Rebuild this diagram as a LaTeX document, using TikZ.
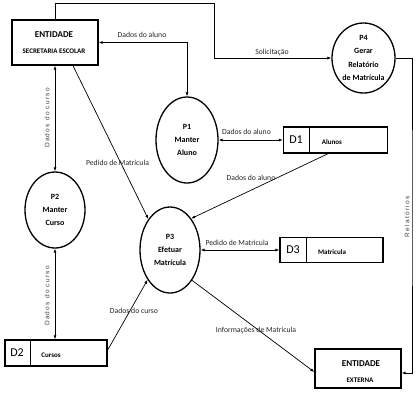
\documentclass[tikz,border=0pt]{standalone}
\usepackage{fontspec}
\setmainfont{Carlito}
\newfontfamily\rotfont{Liberation Sans}[LetterSpace=20]
\usetikzlibrary{shapes.geometric,arrows.meta,calc}
\begin{document}
\begin{tikzpicture}[x=1pt,y=-1pt,
 ent/.style={draw,line width=1.4pt,rectangle,inner sep=0pt},
 proc/.style={draw,line width=1.3pt,ellipse,inner sep=0pt,align=center,font=\fontsize{8}{12.8}\selectfont\bfseries},
 store/.style={draw,line width=1.4pt,rectangle,inner sep=0pt},
 sid/.style={font=\fontsize{12}{12}\selectfont,inner sep=0pt},
 sname/.style={font=\fontsize{7}{8}\selectfont\bfseries,inner sep=0pt},
 etitle/.style={font=\fontsize{9}{9}\selectfont\bfseries,inner sep=0pt},
 esub/.style={font=\fontsize{7}{8}\selectfont\bfseries,inner sep=0pt},
 tip/.tip={Latex[length=4pt,width=3pt]},
 flow/.style={line width=0.7pt,-tip},
 bflow/.style={line width=0.7pt,tip-tip},
 lbl/.style={font=\fontsize{7.7}{8}\selectfont,inner sep=1pt,text=black!85},
 rlbl/.style={font=\rotfont\fontsize{6.5}{7}\selectfont,rotate=90,inner sep=1pt,text=black!75}
]
\useasboundingbox (0,0) rectangle (419,400);

% entities
\node[ent,minimum width=86pt,minimum height=45pt] (sec) at (55,42.5) {};
\node[etitle] (secT1) at (54,35) {ENTIDADE};
\node[esub] (secT2) at (54,51) {SECRETARIA ESCOLAR};
\node[ent,minimum width=86pt,minimum height=39pt] (ext) at (358,368.5) {};
\node[etitle] (extT1) at (361,364) {ENTIDADE};
\node[esub] (extT2) at (360,380) {EXTERNA};

% processes
\node[proc,minimum width=62pt,minimum height=86pt] (P1) at (187,140) {P1\\Manter\\Aluno};
\node[proc,minimum width=60pt,minimum height=76pt] (P2) at (55,210) {P2\\Manter\\Curso};
\node[proc,minimum width=60pt,minimum height=86pt] (P3) at (170,250) {P3\\Efetuar\\Matrícula};
\node[proc,minimum width=63pt,minimum height=70pt,font=\fontsize{8}{13.3}\selectfont\bfseries] (P4) at (363.5,58) {P4\\Gerar\\Relatório\\de Matrícula};

% data stores
\node[store,minimum width=104pt,minimum height=26pt] (D1) at (335.5,140) {};
\draw[line width=0.6pt] ($(D1.north west)+(26,0)$) -- ($(D1.south west)+(26,0)$);
\node[sid] (D1id) at (296,140) {D1};
\node[sname] (D1n) at (332,142) {Alunos};

\node[store,minimum width=103pt,minimum height=25pt] (D3) at (331.5,250) {};
\draw[line width=0.6pt] ($(D3.north west)+(27,0)$) -- ($(D3.south west)+(27,0)$);
\node[sid] (D3id) at (293,250) {D3};
\node[sname] (D3n) at (332,252) {Matricula};

\node[store,minimum width=102pt,minimum height=26pt] (D2) at (56,353) {};
\draw[line width=0.6pt] ($(D2.north west)+(26,0)$) -- ($(D2.south west)+(26,0)$);
\node[sid] (D2id) at (17,353) {D2};
\node[sname] (D2n) at (51,355) {Cursos};

% connectors
\coordinate (c2) at (214,3);
\coordinate (c4) at (412,200);
\draw[flow] (sec.north) |- (c2) |- (P4.west);
\draw[flow] (P4.east) -| (c4) |- ($(ext.east)+(0,4.5)$);
\draw[bflow] (P1.north) |- (sec.east);
\draw[bflow] (sec.south) -- (P2.north);
\draw[bflow] (P2.south) -- (P2.south |- D2.north);
\draw[bflow] (P1) -- (D1);
\draw[flow] ($(D1.south)+(-7.5,0)$) -- (P3.56);
\draw[flow] ($(sec.south)+(18,0)$) -- (P3.125);
\draw[bflow] (P3) -- (D3);
\draw[flow] ($(D2.east)+(0,-3)$) -- (P3.233);
\draw[flow] (P3.-54) -- ($(ext.west)+(0,3.5)$);

% labels
\node[lbl] (l1) at (142,35) {Dados do aluno};
\node[lbl] (l2) at (272,52) {Solicitação};
\node[rlbl] (l3) at (47,118) {Dados do curso};
\node[rlbl] (l4) at (47,296) {Dados do curso};
\node[lbl] (l5) at (117.5,163) {Pedido de Matrícula};
\node[lbl] (l6) at (246.5,132) {Dados do aluno};
\node[lbl] (l7) at (251,178) {Dados do aluno};
\node[lbl] (l8) at (237,243) {Pedido de Matricula};
\node[lbl] (l9) at (134,311) {Dados do curso};
\node[lbl] (l10) at (256,330) {Informações de Matricula};
\node[rlbl] (l11) at (407,217) {Relatórios};
\end{tikzpicture}
\end{document}
